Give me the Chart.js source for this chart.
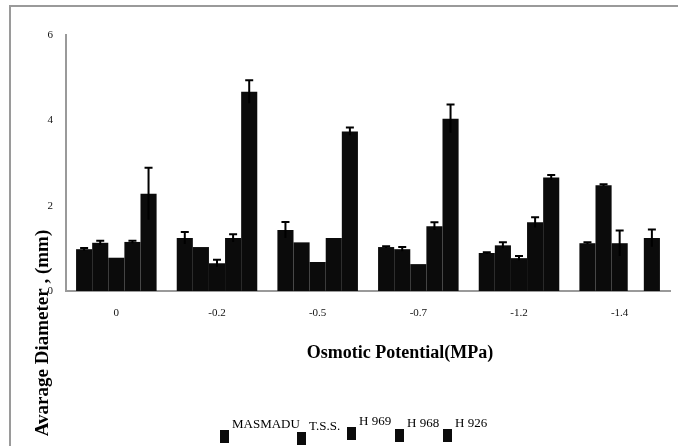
<!DOCTYPE html>
<html>
<head>
<meta charset="utf-8">
<script src="https://cdn.jsdelivr.net/npm/chart.js@4/dist/chart.umd.min.js"></script>
<style>
  html, body { margin: 0; padding: 0; background: #fff; }
  #wrap { width: 678px; height: 446px; position: relative; }
</style>
</head>
<body>
<div id="wrap"><canvas id="chart"></canvas></div>
<script>
// categories and series
const potentials = ["0", "-0.2", "-0.5", "-0.7", "-1.2", "-1.4"];
const seriesNames = ["MASMADU", "T.S.S.", "H 969", "H 968", "H 926"];

const masmadu = [0.98, 1.24, 1.43, 1.03, 0.89, 1.12];
const tss     = [1.13, 1.03, 1.14, 0.98, 1.07, 2.48];
const h969    = [0.78, 0.65, 0.68, 0.63, 0.77, 1.12];
const h968    = [1.15, 1.24, 1.24, 1.52, 1.61, null];
const h926    = [2.28, 4.67, 3.74, 4.04, 2.66, 1.24];

// error bar sizes (upper side)
const masmaduErr = [0.03, 0.14, 0.19, 0.02, 0.02, 0.02];
const tssErr     = [0.05, 0.00, 0.00, 0.05, 0.07, 0.02];
const h969Err    = [0.00, 0.08, 0.00, 0.00, 0.05, 0.30];
const h968Err    = [0.03, 0.09, 0.00, 0.09, 0.12, 0];
const h926Err    = [0.61, 0.27, 0.09, 0.33, 0.06, 0.20];

const yTicks = [0, 2, 4, 6];

const allValues = [masmadu, tss, h969, h968, h926];
const allErrors = [masmaduErr, tssErr, h969Err, h968Err, h926Err];

const serif = "'Liberation Serif', 'DejaVu Serif', serif";
const barColor = "#0b0b0b";

// error bars drawn from the scales
const errorBars = {
    id: "errorBars",
    afterDatasetsDraw(chart) {
        const ctx = chart.ctx;
        const yScale = chart.scales.y;
        ctx.save();
        ctx.strokeStyle = "#000";
        ctx.lineWidth = 2;
        chart.data.datasets.forEach((ds, i) => {
            const meta = chart.getDatasetMeta(i);
            meta.data.forEach((bar, j) => {
                const v = ds.data[j];
                const e = ds.errors[j];
                if (v == null || !e) return;
                const yTop = yScale.getPixelForValue(v + e);
                const yBot = yScale.getPixelForValue(v - e);
                ctx.beginPath();
                ctx.moveTo(bar.x, yBot);
                ctx.lineTo(bar.x, yTop);
                ctx.moveTo(bar.x - 4, yTop);
                ctx.lineTo(bar.x + 4, yTop);
                ctx.stroke();
            });
        });
        ctx.restore();
    }
};

// frame, axis titles and legend
const decorations = {
    id: "decorations",
    afterDraw(chart) {
        const ctx = chart.ctx;
        ctx.save();
        ctx.strokeStyle = "#9a9a9a";
        ctx.lineWidth = 2;
        ctx.beginPath();
        ctx.moveTo(10, 446);
        ctx.lineTo(10, 6);
        ctx.lineTo(678, 6);
        ctx.stroke();

        ctx.fillStyle = "#000";
        ctx.font = "bold 18px " + serif;
        ctx.textAlign = "center";
        ctx.textBaseline = "middle";
        ctx.fillText("Osmotic Potential(MPa)", 400, 353);

        ctx.save();
        ctx.translate(43, 333);
        ctx.rotate(-Math.PI / 2);
        ctx.font = "bold 19px " + serif;
        ctx.fillText("Avarage Diameter , (mm)", 0, 0);
        ctx.restore();

        // legend
        const markerX = [220, 297, 347, 395, 443];
        const markerY = [430, 432, 427, 429, 429];
        ctx.font = "13px " + serif;
        ctx.textAlign = "left";
        ctx.textBaseline = "alphabetic";
        seriesNames.forEach((name, i) => {
            ctx.fillStyle = barColor;
            ctx.fillRect(markerX[i], markerY[i], 9, 13);
            ctx.fillStyle = "#000";
            ctx.fillText(name, markerX[i] + 12, markerY[i] - 2);
        });
        ctx.restore();
    }
};

new Chart(document.getElementById("chart"), {
    type: "bar",
    data: {
        labels: potentials,
        datasets: seriesNames.map((name, i) => ({
            label: name,
            data: allValues[i],
            errors: allErrors[i],
            backgroundColor: barColor,
            borderWidth: 0,
            categoryPercentage: 0.8,
            barPercentage: 1.0
        }))
    },
    options: {
        responsive: true,
        maintainAspectRatio: false,
        animation: false,
        layout: { padding: { top: 35, right: 8, left: 0, bottom: 0 } },
        plugins: {
            legend: { display: false },
            tooltip: { enabled: false }
        },
        scales: {
            x: {
                grid: { display: false, drawTicks: false },
                border: { color: "#9a9a9a", width: 2 },
                ticks: { color: "#111", font: { family: serif, size: 11 }, padding: 16 },
                afterFit(s) { s.height = 155; }
            },
            y: {
                min: 0,
                max: 6,
                grid: { display: false, drawTicks: false },
                border: { color: "#9a9a9a", width: 2 },
                afterBuildTicks(s) { s.ticks = yTicks.map(v => ({ value: v })); },
                ticks: { color: "#111", font: { family: serif, size: 11 }, padding: 13 },
                afterFit(s) { s.width = 66; }
            }
        }
    },
    plugins: [errorBars, decorations]
});
</script>
</body>
</html>
